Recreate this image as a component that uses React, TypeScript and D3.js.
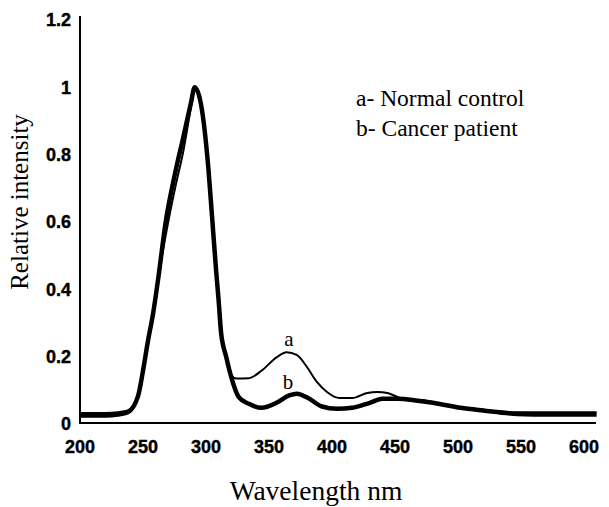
import React from "react";
import * as d3 from "d3";

const W = 609;
const H = 507;

const xTicks = [200, 250, 300, 350, 400, 450, 500, 550, 600];
const yTicks = [0, 0.2, 0.4, 0.6, 0.8, 1, 1.2];
const yTickLabels = ["0", "0.2", "0.4", "0.6", "0.8", "1", "1.2"];

const legendLines = ["a- Normal control", "b- Cancer patient"];

// Series a: Normal control (thin line)
const wavelengthA = [200, 220, 230, 238, 246, 250, 254, 258, 262, 270, 276, 282, 288, 291, 296, 302, 305, 308, 310, 312, 316, 320, 324, 334, 344, 356, 364, 372, 380, 388, 396, 406, 416, 428, 436, 444, 452, 462, 470, 480, 502, 520, 547, 573, 600, 610];
const intensityA = [0.033, 0.033, 0.035, 0.04, 0.088, 0.163, 0.252, 0.333, 0.43, 0.6, 0.71, 0.81, 0.94, 1.0, 0.95, 0.754, 0.606, 0.457, 0.368, 0.27, 0.2, 0.145, 0.135, 0.136, 0.158, 0.198, 0.213, 0.205, 0.17, 0.125, 0.095, 0.077, 0.077, 0.092, 0.095, 0.092, 0.08, 0.071, 0.071, 0.065, 0.05, 0.042, 0.035, 0.035, 0.035, 0.035];

// Series b: Cancer patient (thick line)
const wavelengthB = [200, 220, 230, 238, 246, 250, 254, 258, 262, 268, 276, 282, 288, 291, 296, 302, 305, 308, 310, 312, 316, 320, 326, 334, 344, 356, 366, 372, 382, 392, 404, 416, 430, 440, 452, 468, 480, 502, 520, 547, 573, 600, 610];
const intensityB = [0.025, 0.025, 0.028, 0.035, 0.082, 0.158, 0.248, 0.328, 0.43, 0.6, 0.754, 0.852, 0.953, 1.0, 0.95, 0.754, 0.606, 0.457, 0.368, 0.27, 0.2, 0.14, 0.08, 0.06, 0.048, 0.063, 0.085, 0.09, 0.075, 0.052, 0.045, 0.048, 0.063, 0.075, 0.075, 0.069, 0.063, 0.048, 0.04, 0.03, 0.028, 0.028, 0.028];

const x = d3.scaleLinear().domain([200, 600]).range([80, 584]);
const y = d3.scaleLinear().domain([0, 1.2]).range([424, 20]);

const line = d3
  .line<[number, number]>()
  .x((d) => x(d[0]))
  .y((d) => y(d[1]))
  .curve(d3.curveMonotoneX);

const seriesA: [number, number][] = wavelengthA.map((w, i) => [w, intensityA[i]]);
const seriesB: [number, number][] = wavelengthB.map((w, i) => [w, intensityB[i]]);

const tickFont = "'Liberation Sans', Arial, sans-serif";
const serif = "'Liberation Serif', 'Times New Roman', serif";

export default function App() {
  return (
    <svg
      width={W}
      height={H}
      style={{ position: "absolute", left: 0, top: 0, background: "#fff" }}
    >
      <rect x={0} y={0} width={W} height={H} fill="#fff" />
      {/* axes */}
      <line x1={80} y1={16} x2={80} y2={424} stroke="#000" strokeWidth={2} />
      <line x1={79} y1={423} x2={596} y2={423} stroke="#000" strokeWidth={2} />

      {yTicks.map((t, i) => (
        <text
          key={"y" + t}
          x={71}
          y={y(t)}
          dy="0.36em"
          textAnchor="end"
          fontFamily={tickFont}
          fontWeight="bold"
          fontSize={18}
          fill="#000"
          stroke="#000"
          strokeWidth={0.4}
        >
          {yTickLabels[i]}
        </text>
      ))}
      {xTicks.map((t) => (
        <text
          key={"x" + t}
          x={x(t)}
          y={453}
          textAnchor="middle"
          fontFamily={tickFont}
          fontWeight="bold"
          fontSize={18}
          fill="#000"
          stroke="#000"
          strokeWidth={0.4}
        >
          {t}
        </text>
      ))}

      <text
        x={316}
        y={500}
        textAnchor="middle"
        fontFamily={serif}
        fontSize={27.5}
        fill="#000"
      >
        Wavelength nm
      </text>
      <text
        transform={`translate(28,202) rotate(-90)`}
        textAnchor="middle"
        fontFamily={serif}
        fontSize={25}
        fill="#000"
      >
        Relative intensity
      </text>

      {/* curves */}
      <path d={line(seriesB) || ""} fill="none" stroke="#000" strokeWidth={4.5} strokeLinejoin="round" />
      <path d={line(seriesA) || ""} fill="none" stroke="#000" strokeWidth={2} strokeLinejoin="round" />

      {/* curve labels */}
      <text x={289} y={346} textAnchor="middle" fontFamily={serif} fontSize={21} fill="#000">a</text>
      <text x={288} y={389} textAnchor="middle" fontFamily={serif} fontSize={21} fill="#000">b</text>

      {/* legend */}
      {legendLines.map((s, i) => (
        <text key={s} x={356} y={106 + i * 30} fontFamily={serif} fontSize={23.5} fill="#000">
          {s}
        </text>
      ))}
    </svg>
  );
}
